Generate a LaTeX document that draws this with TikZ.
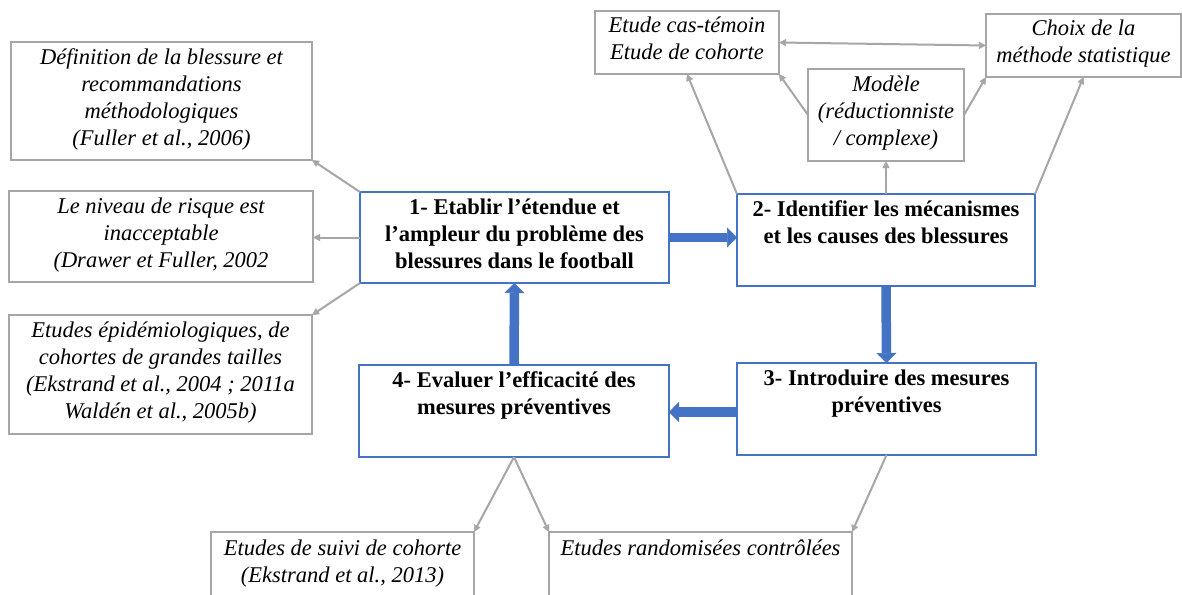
\documentclass[tikz,border=0pt]{standalone}
\usepackage{fontspec}
\setmainfont{Liberation Serif}
\usetikzlibrary{arrows.meta}
\definecolor{boxblue}{HTML}{4472C4}
\definecolor{arrblue}{HTML}{4472C4}
\definecolor{boxgray}{HTML}{A6A6A6}
\begin{document}
\begin{tikzpicture}[x=1pt,y=-1pt,
  >={Triangle[length=7pt,width=7pt,line width=0.5pt]},
  txt/.style={align=center, inner sep=0pt, outer sep=0pt,
    execute at begin node=\strut, execute at end node=\strut},
  bluebox/.style={txt, draw=boxblue, line width=1.4pt,
    font=\fontsize{22.5}{27}\selectfont\bfseries},
  graybox/.style={txt, draw=boxgray, line width=1.7pt,
    font=\fontsize{22.5}{27}\selectfont\itshape},
  grayarrow/.style={draw=boxgray, line width=2pt, ->},
  blockarrow/.style={draw=arrblue, line width=9.5pt,
    -{Triangle[length=10pt,width=20pt,line width=0.5pt]}},
]
\useasboundingbox (0,0) rectangle (1182,594);
\clip (0,0) rectangle (1182,594);
\fill[white] (0,0) rectangle (1182,594);

% left grey boxes
\node[graybox, minimum width=301pt, minimum height=118pt] (bA) at (161.5,101)
  {Définition de la blessure et\\recommandations\\méthodologiques\\(Fuller et al., 2006)};
\node[graybox, minimum width=304pt, minimum height=91pt] (bB) at (161,236.5)
  {Le niveau de risque est\\inacceptable\\(Drawer et Fuller, 2002};
\node[graybox, minimum width=303pt, minimum height=119pt] (bC) at (160.5,374.5)
  {Etudes épidémiologiques, de\\cohortes de grandes tailles\\(Ekstrand et al., 2004 ; 2011a\\Waldén et al., 2005b)};

% top grey boxes
\node[graybox, minimum width=184pt, minimum height=63pt] (et) at (687,42.5)
  {Etude cas-témoin\\Etude de cohorte};
\node[graybox, minimum width=195pt, minimum height=63pt] (ch) at (1083.5,45.5)
  {Choix de la\\méthode statistique};
\node[graybox, minimum width=156pt, minimum height=92pt] (mo) at (886,115)
  {Modèle\\(réductionniste\\/ complexe)};

% bottom grey boxes
\node[graybox, minimum width=263pt, minimum height=66pt] (bl) at (342.5,565)
  {Etudes de suivi de cohorte\\(Ekstrand et al., 2013)};
\node[graybox, minimum width=303pt, minimum height=66pt] (br) at (700.5,565)
  {Etudes randomisées contrôlées\\};

% blue boxes
\node[bluebox, minimum width=309pt, minimum height=91pt] (b1) at (514.5,237.5)
  {1- Etablir l’étendue et\\l’ampleur du problème des\\blessures dans le football};
\node[bluebox, minimum width=298pt, minimum height=92pt] (b2) at (886,240)
  {2- Identifier les mécanismes\\et les causes des blessures\\};
\node[bluebox, minimum width=299pt, minimum height=92pt] (b3) at (886.5,409)
  {3- Introduire des mesures\\préventives\\};
\node[bluebox, minimum width=310pt, minimum height=92pt] (b4) at (514,411)
  {4- Evaluer l’efficacité des\\mesures préventives\\};

% block arrows
\draw[blockarrow] (b1.east) -- (b1.east -| b2.west);
\draw[blockarrow] (b2.south) -- (b3.north);
\draw[blockarrow] ([yshift=-3pt]b3.west) -- ([yshift=-3pt]b3.west -| b4.east);
\draw[blockarrow] (b4.north) -- (b1.south);

% grey arrows
\draw[grayarrow] (b1.north west) -- (bA.south east);
\draw[grayarrow] (b1.west) -- (b1.west -| bB.east);
\draw[grayarrow] (b1.south west) -- (bC.north east);
\draw[grayarrow] (b2.north west) -- (et.south);
\draw[grayarrow] (mo.west) -- (et.south east);
\draw[grayarrow] (b2.north) -- (mo.south);
\draw[grayarrow] (mo.east) -- (ch.south west);
\draw[grayarrow] (b2.north east) -- (ch.south);
\draw[grayarrow, <->] (et.east) -- (ch.west);
\draw[grayarrow] (b4.south) -- (bl.north east);
\draw[grayarrow] (b4.south) -- (br.north west);
\draw[grayarrow] (b3.south) -- (br.north east);
\end{tikzpicture}
\end{document}
